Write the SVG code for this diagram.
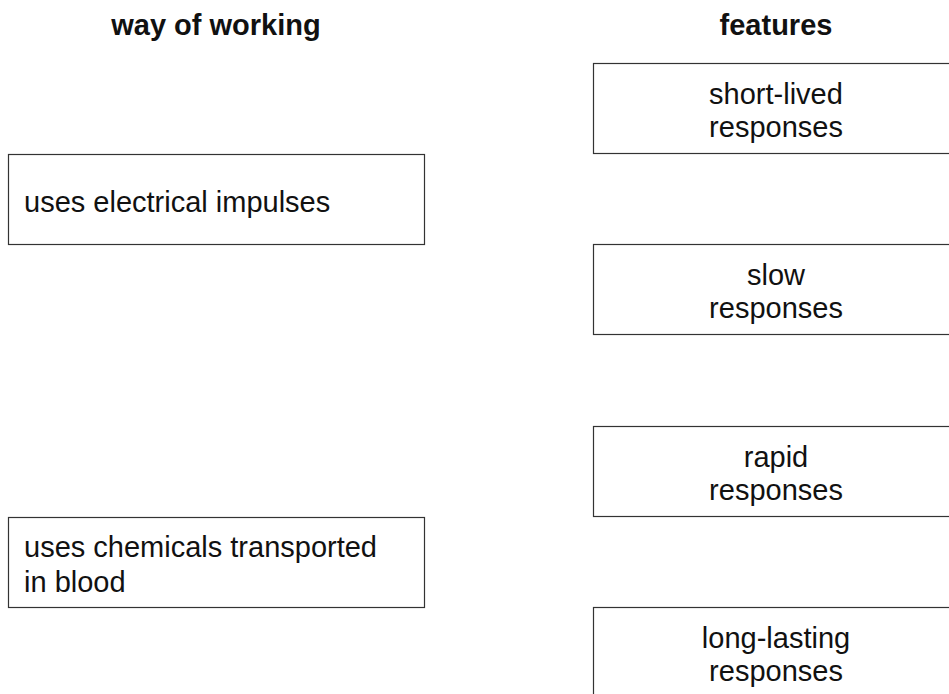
<svg xmlns="http://www.w3.org/2000/svg" width="949" height="694" viewBox="0 0 949 694">
<style>
.box{fill:#fff;stroke:#333;stroke-width:1.2}
.t{font-family:"Liberation Sans",Arial,Helvetica,sans-serif;font-size:29px;fill:#111}
.h{font-family:"Liberation Sans",Arial,Helvetica,sans-serif;font-size:29px;font-weight:bold;fill:#111;text-anchor:middle}
.c{text-anchor:middle}
</style>
<rect width="949" height="694" fill="#fff"/>
<text class="h" x="216" y="35">way of working</text>
<text class="h" x="776" y="35">features</text>
<g id="left-electrical">
<rect class="box" x="8.5" y="154.5" width="416" height="90"/>
<text class="t" x="24" y="212">uses electrical impulses</text>
</g>
<g id="left-chemicals">
<rect class="box" x="8.5" y="517.5" width="416" height="90"/>
<text class="t" x="24" y="557">uses chemicals transported</text>
<text class="t" x="24" y="592">in blood</text>
</g>
<g id="right-short-lived">
<rect class="box" x="593.5" y="63.5" width="370" height="90"/>
<text class="t c" x="776" y="104">short-lived</text>
<text class="t c" x="776" y="137">responses</text>
</g>
<g id="right-slow">
<rect class="box" x="593.5" y="244.5" width="370" height="90"/>
<text class="t c" x="776" y="285">slow</text>
<text class="t c" x="776" y="318">responses</text>
</g>
<g id="right-rapid">
<rect class="box" x="593.5" y="426.5" width="370" height="90"/>
<text class="t c" x="776" y="467">rapid</text>
<text class="t c" x="776" y="500">responses</text>
</g>
<g id="right-long-lasting">
<rect class="box" x="593.5" y="607.5" width="370" height="100"/>
<text class="t c" x="776" y="648">long-lasting</text>
<text class="t c" x="776" y="681">responses</text>
</g>
<g id="connectors"></g>
</svg>
